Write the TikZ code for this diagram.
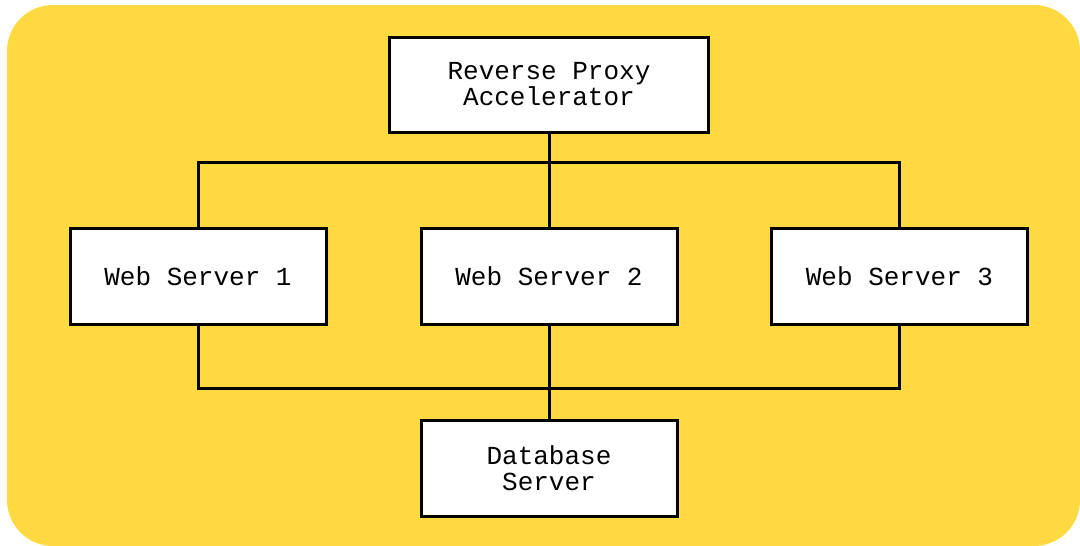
\documentclass[tikz,border=0pt]{standalone}
\usepackage{fontspec}
\setmonofont{Liberation Mono}
\usepackage{tikz}
\usetikzlibrary{calc}
\definecolor{bgyellow}{RGB}{254,218,64}
\tikzset{
  server/.style={draw=black, line width=3pt, fill=white, minimum width=256pt, minimum height=96pt,
    align=center, inner sep=0pt, font=\ttfamily\fontsize{26}{26}\selectfont},
  link/.style={draw=black, line width=3pt}
}

\begin{document}
\begin{tikzpicture}[x=1pt,y=-1pt]
\useasboundingbox (0,0) rectangle (1080,546);
\fill[bgyellow, rounded corners=46pt] (7,5) rectangle (1080,546);
%
\node[server, minimum width=319pt, minimum height=95pt] (proxy) at (549,84.5) {Reverse Proxy\\Accelerator};

\node[server] (ws1) at (198,276) {Web Server 1};
\node[server] (ws2) at (549,276) {Web Server 2};
\node[server] (ws3) at (899.5,276) {Web Server 3};

\node[server] (db) at (549,468) {Database\\Server};
%
\draw[link] (proxy.south) -- (ws2.north);
\draw[link] (ws1.north) -- ++(0,-64) -| (ws3.north);
\draw[link] (ws1.south) -- ++(0,63) -| (ws3.south);
\draw[link] (ws2.south) -- (db.north);

\end{tikzpicture}
\end{document}
